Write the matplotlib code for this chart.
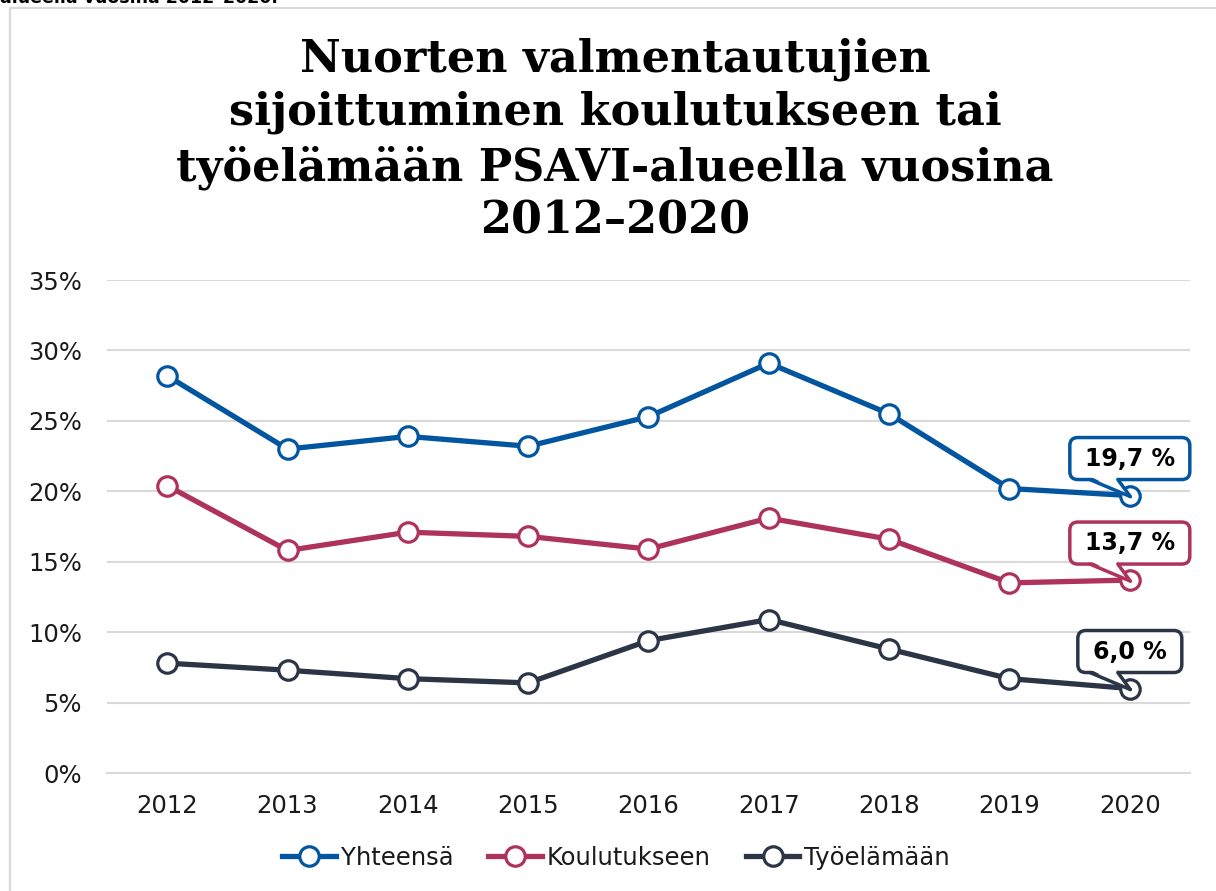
import numpy as np
from matplotlib import pyplot as plt
from matplotlib import transforms
from matplotlib.patches import Rectangle, Polygon, FancyBboxPatch

years = ["2012", "2013", "2014", "2015", "2016", "2017", "2018", "2019", "2020"]
yhteensa = [28.2, 23.0, 23.9, 23.2, 25.3, 29.1, 25.5, 20.2, 19.7]
koulutukseen = [20.4, 15.8, 17.1, 16.8, 15.9, 18.1, 16.6, 13.5, 13.7]
tyoelamaan = [7.8, 7.3, 6.7, 6.4, 9.4, 10.9, 8.8, 6.7, 6.0]
series_names = ["Yhteensä", "Koulutukseen", "Työelämään"]
colors = ["#02559f", "#ad325c", "#2b3546"]

title = ("Nuorten valmentautujien\nsijoittuminen koulutukseen tai\n"
         "työelämään PSAVI-alueella vuosina\n2012–2020")


def callout(fig, ax, x, y, text, color):
    # rounded label box above the point (sizes in inches from the point),
    # with a wedge pointing down to it
    tr = fig.dpi_scale_trans + transforms.ScaledTranslation(x, y, ax.transData)
    w = 0.16 * len(text) + 0.24
    box = FancyBboxPatch((-w / 2, 0.16), w, 0.42,
                         boxstyle="round,pad=0,rounding_size=0.08",
                         fc="white", ec=color, lw=2.5, transform=tr, zorder=5)
    box.set_clip_on(False)
    ax.add_patch(box)
    ax.text(0, 0.37, text, ha="center", va="center", fontsize=17,
            fontweight="bold", transform=tr, zorder=8)
    fill = Polygon([(-0.385, 0.185), (-0.135, 0.185), (0.0, -0.005)],
                   closed=True, fc="white", ec="none", transform=tr, zorder=6)
    fill.set_clip_on(False)
    ax.add_patch(fill)
    for bx in (-0.40, -0.12):
        ax.plot([bx, 0.005], [0.16, -0.01], color=color, lw=2.5,
                solid_capstyle="round", transform=tr, zorder=7, clip_on=False)


def main():
    fig = plt.figure(figsize=(12.16, 8.91), dpi=100)
    ax = fig.add_axes([0.088, 0.1324, 0.8906, 0.5533])

    # frame around the chart area and the cut-off caption above it
    fig.patches.append(Rectangle((10 / 1216, -0.1), 1.2, 0.1 + 883 / 891,
                                 transform=fig.transFigure, fill=False,
                                 ec="#d9d9d9", lw=1.6))
    fig.text(0, 1 - 3 / 891, "alueella vuosina 2012–2020.",
             fontsize=12.5, fontweight="bold", ha="left", va="baseline")

    x = np.arange(len(years))
    for vals, name, c in zip([yhteensa, koulutukseen, tyoelamaan], series_names, colors):
        v = np.array(vals) / 100
        ax.plot(x, v, color=c, lw=3.8, marker="o", ms=14, mfc="white",
                mec=c, mew=2.3, label=name, zorder=3)
        callout(fig, ax, x[-1], v[-1], f"{vals[-1]:.1f} %".replace(".", ","), c)

    ax.set_xlim(-0.5, len(years) - 0.5)
    ax.set_ylim(0, 0.35)
    ax.set_xticks(x)
    ax.set_xticklabels(years)
    yt = np.arange(0, 0.36, 0.05)
    ax.set_yticks(yt)
    ax.set_yticklabels([f"{int(round(t * 100))}%" for t in yt])
    ax.tick_params(length=0, labelsize=17.5, colors="#1a1a1a")
    ax.tick_params(axis="x", pad=15)
    ax.tick_params(axis="y", pad=18)
    ax.grid(axis="y", color="#d9d9d9", lw=1.5)
    ax.set_axisbelow(True)
    for s in ["top", "right", "left"]:
        ax.spines[s].set_visible(False)
    ax.spines["bottom"].set_color("#d9d9d9")
    ax.spines["bottom"].set_linewidth(1.5)

    fig.text(615 / 1216, 1 - 140 / 891, title, ha="center", va="center",
             family="DejaVu Serif", fontweight="bold", fontsize=32,
             linespacing=1.30)

    ax.legend(loc="center", bbox_to_anchor=(0.47, -0.172), ncol=3, frameon=False,
              fontsize=17.5, handlelength=2.2, handletextpad=0.2,
              columnspacing=1.45, labelcolor="#1a1a1a")

    fig.savefig("out.png", dpi=100)


if __name__ == "__main__":
    main()
